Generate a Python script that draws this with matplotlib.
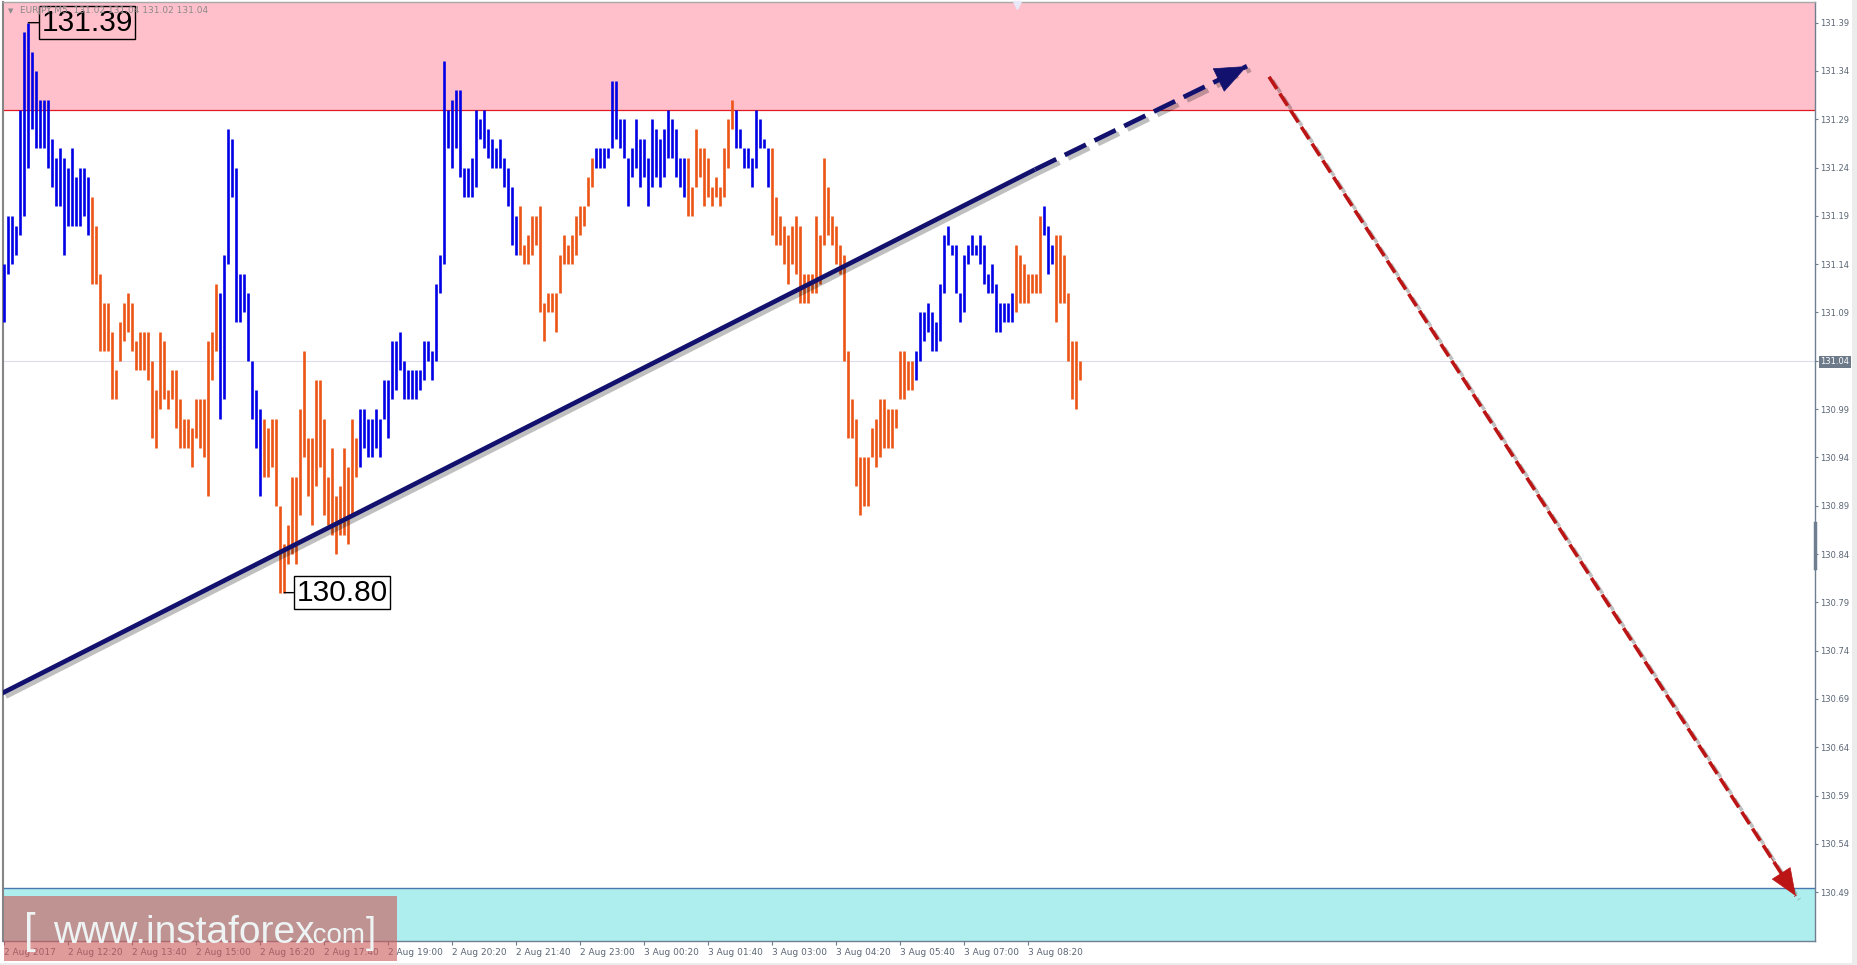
import matplotlib
matplotlib.use("Agg")
import matplotlib.pyplot as plt
import matplotlib.patheffects as pe
from matplotlib.patches import Rectangle
import numpy as np

# EURJPY M5 bars, high / low
highs = [
    131.14, 131.19, 131.19, 131.18, 131.30, 131.38, 131.39, 131.36, 131.34, 131.31,
    131.31, 131.31, 131.27, 131.25, 131.26, 131.25, 131.24, 131.26, 131.23, 131.24,
    131.24, 131.23, 131.21, 131.18, 131.13, 131.10, 131.10, 131.07, 131.03, 131.08,
    131.10, 131.11, 131.10, 131.06, 131.07, 131.07, 131.07, 131.04, 131.01, 131.07,
    131.06, 131.01, 131.03, 131.03, 131.00, 130.98, 130.98, 130.97, 131.00, 131.00,
    131.00, 131.06, 131.07, 131.12, 131.11, 131.15, 131.28, 131.27, 131.24, 131.13,
    131.13, 131.11, 131.04, 131.01, 130.99, 130.98, 130.97, 130.98, 130.98, 130.89,
    130.85, 130.87, 130.92, 130.92, 130.99, 131.05, 130.96, 130.96, 131.02, 131.02,
    130.98, 130.92, 130.95, 130.90, 130.91, 130.95, 130.93, 130.98, 130.96, 130.99,
    130.99, 130.98, 130.98, 130.99, 130.98, 131.02, 131.02, 131.06, 131.06, 131.07,
    131.04, 131.03, 131.03, 131.03, 131.03, 131.06, 131.06, 131.05, 131.12, 131.15,
    131.35, 131.30, 131.31, 131.32, 131.32, 131.24, 131.24, 131.25, 131.30, 131.29,
    131.30, 131.28, 131.27, 131.26, 131.27, 131.25, 131.24, 131.22, 131.19, 131.20,
    131.16, 131.17, 131.19, 131.19, 131.20, 131.10, 131.11, 131.11, 131.11, 131.15,
    131.17, 131.16, 131.17, 131.19, 131.20, 131.20, 131.23, 131.25, 131.26, 131.26,
    131.26, 131.26, 131.33, 131.33, 131.29, 131.29, 131.25, 131.26, 131.29, 131.27,
    131.27, 131.25, 131.29, 131.28, 131.27, 131.28, 131.30, 131.29, 131.28, 131.25,
    131.25, 131.25, 131.22, 131.28, 131.26, 131.26, 131.25, 131.22, 131.23, 131.22,
    131.26, 131.29, 131.31, 131.30, 131.28, 131.26, 131.26, 131.25, 131.30, 131.29,
    131.27, 131.26, 131.26, 131.21, 131.19, 131.18, 131.17, 131.18, 131.19, 131.18,
    131.13, 131.13, 131.13, 131.19, 131.17, 131.25, 131.22, 131.19, 131.18, 131.16,
    131.15, 131.05, 131.00, 130.98, 130.94, 130.94, 130.94, 130.97, 130.98, 131.00,
    131.00, 130.99, 130.99, 130.99, 131.05, 131.05, 131.04, 131.04, 131.05, 131.09,
    131.09, 131.10, 131.09, 131.08, 131.12, 131.17, 131.18, 131.16, 131.16, 131.11,
    131.15, 131.16, 131.17, 131.16, 131.17, 131.16, 131.13, 131.14, 131.12, 131.10,
    131.10, 131.10, 131.11, 131.16, 131.15, 131.14, 131.13, 131.13, 131.13, 131.19,
    131.20, 131.18, 131.16, 131.17, 131.17, 131.15, 131.11, 131.06, 131.06, 131.04,
]
lows = [
    131.08, 131.13, 131.14, 131.15, 131.17, 131.19, 131.24, 131.28, 131.26, 131.26,
    131.26, 131.24, 131.22, 131.20, 131.20, 131.15, 131.18, 131.18, 131.18, 131.18,
    131.19, 131.17, 131.12, 131.12, 131.05, 131.05, 131.05, 131.00, 131.00, 131.04,
    131.06, 131.07, 131.05, 131.03, 131.03, 131.03, 131.02, 130.96, 130.95, 130.99,
    131.00, 130.99, 131.00, 130.97, 130.95, 130.95, 130.95, 130.93, 130.96, 130.95,
    130.94, 130.90, 131.02, 131.05, 130.98, 131.00, 131.14, 131.21, 131.08, 131.08,
    131.09, 131.04, 130.98, 130.95, 130.90, 130.92, 130.92, 130.93, 130.89, 130.80,
    130.80, 130.83, 130.84, 130.83, 130.88, 130.94, 130.90, 130.87, 130.91, 130.93,
    130.88, 130.87, 130.86, 130.84, 130.86, 130.86, 130.85, 130.88, 130.92, 130.93,
    130.95, 130.94, 130.94, 130.95, 130.94, 130.98, 130.96, 131.00, 131.01, 131.03,
    131.00, 131.00, 131.00, 131.00, 131.01, 131.02, 131.04, 131.02, 131.04, 131.11,
    131.14, 131.26, 131.24, 131.26, 131.23, 131.21, 131.21, 131.21, 131.22, 131.27,
    131.26, 131.25, 131.24, 131.24, 131.24, 131.22, 131.20, 131.16, 131.15, 131.15,
    131.14, 131.14, 131.15, 131.16, 131.09, 131.06, 131.09, 131.09, 131.07, 131.11,
    131.14, 131.14, 131.14, 131.15, 131.17, 131.18, 131.20, 131.22, 131.24, 131.24,
    131.24, 131.25, 131.26, 131.27, 131.26, 131.25, 131.20, 131.23, 131.24, 131.22,
    131.23, 131.20, 131.22, 131.23, 131.22, 131.23, 131.25, 131.25, 131.23, 131.22,
    131.21, 131.19, 131.19, 131.22, 131.23, 131.20, 131.21, 131.20, 131.21, 131.20,
    131.21, 131.24, 131.28, 131.26, 131.26, 131.24, 131.24, 131.22, 131.24, 131.26,
    131.26, 131.22, 131.17, 131.16, 131.16, 131.14, 131.12, 131.14, 131.13, 131.10,
    131.10, 131.10, 131.11, 131.11, 131.12, 131.16, 131.17, 131.16, 131.14, 131.13,
    131.04, 130.96, 130.96, 130.91, 130.88, 130.89, 130.89, 130.94, 130.93, 130.94,
    130.95, 130.95, 130.95, 130.97, 131.00, 131.00, 131.01, 131.01, 131.02, 131.04,
    131.06, 131.07, 131.05, 131.05, 131.06, 131.11, 131.16, 131.15, 131.11, 131.08,
    131.09, 131.14, 131.15, 131.15, 131.14, 131.12, 131.11, 131.11, 131.07, 131.07,
    131.08, 131.08, 131.08, 131.09, 131.10, 131.10, 131.10, 131.11, 131.11, 131.11,
    131.17, 131.13, 131.14, 131.08, 131.10, 131.10, 131.04, 131.00, 130.99, 131.02,
]
# first bar of each wave, waves alternate blue (up) / orange (down)
wave_starts = [0, 22, 54, 65, 89, 129, 148, 171, 183, 192, 228, 253, 260, 263]

time_labels = ["2 Aug 2017", "2 Aug 12:20", "2 Aug 13:40", "2 Aug 15:00", "2 Aug 16:20",
               "2 Aug 17:40", "2 Aug 19:00", "2 Aug 20:20", "2 Aug 21:40", "2 Aug 23:00",
               "3 Aug 00:20", "3 Aug 01:40", "3 Aug 03:00", "3 Aug 04:20", "3 Aug 05:40",
               "3 Aug 07:00", "3 Aug 08:20"]
bars_per_label = 16
price_ticks = [round(130.49 + 0.05 * k, 2) for k in range(19)]

last_price = 131.04
resist_level = 131.30
support_level = 130.494
high_mark = (6, 131.39)
low_mark = (70, 130.80)

# forecast lines (bar index, price)
trend_solid = [(-0.5, 130.696), (257.7, 131.238)]
trend_dash = [(257.7, 131.238), (310.7, 131.345)]
down_arrow = [(316.2, 131.334), (447.9, 130.486)]

BLUE = "#0000e6"
ORANGE = "#ec5516"
NAVY = "#12126e"
DRED = "#bb1515"
AXC = "#6f7f8f"
TXC = "#5b6675"

W, H = 1857, 965
fig = plt.figure(figsize=(W / 100, H / 100), dpi=100)
ax = fig.add_axes([3 / W, 24 / H, 1812 / W, 939 / H])
ymin, ymax = 130.4394, 131.4114
ax.set_xlim(-0.33, 452.7)
ax.set_ylim(ymin, ymax)

# zones
ax.axhspan(resist_level, ymax + 1, color="#ffc0cb", lw=0, zorder=0)
ax.axhline(resist_level, color="#e01b24", lw=0.9, zorder=1)
ax.axhspan(ymin - 1, support_level, color="#afeeee", lw=0, zorder=0)
ax.axhline(support_level, color="#4a78b0", lw=1.0, zorder=1)
ax.axhline(last_price, color="#dcdcf0", lw=0.8, zorder=1)

# bars
x = np.arange(len(highs))
bar_colors = []
for i in x:
    k = sum(1 for s in wave_starts if s <= i) - 1
    bar_colors.append(BLUE if k % 2 == 0 else ORANGE)
ax.vlines(x, lows, highs, colors=bar_colors, linewidth=1.9, zorder=3)

# trend line + forecast arrows
shadow = [pe.SimpleLineShadow(offset=(2.5, -2.5), shadow_color="k", alpha=0.25), pe.Normal()]
(tx, ty) = zip(*trend_solid)
ax.plot(tx, ty, color=NAVY, lw=3.4, solid_capstyle="butt", zorder=4, path_effects=shadow)
(tx, ty) = zip(*trend_dash)
ax.plot(tx, ty, color=NAVY, lw=3.4, dashes=(5, 2), zorder=4, path_effects=shadow)
(tx, ty) = zip(*down_arrow)
ax.plot(tx, ty, color=DRED, lw=2.6, dashes=(4, 1.5), zorder=4, path_effects=shadow)


def head(seg, color, scale):
    (x0, y0), (x1, y1) = seg
    f = 0.06
    ax.annotate("", xy=(x1, y1), xytext=(x1 - (x1 - x0) * f, y1 - (y1 - y0) * f),
                arrowprops=dict(arrowstyle="-|>,head_length=1.1,head_width=0.45",
                                mutation_scale=scale, color=color, lw=0.5,
                                shrinkA=0, shrinkB=0), zorder=4)


head(trend_dash, NAVY, 20)
head(down_arrow, DRED, 17)

# high / low labels
ax.annotate("131.39", xy=high_mark, xytext=(9.3, high_mark[1]), ha="left", va="center",
            fontsize=21.5, family="Liberation Sans", color="black", zorder=5,
            bbox=dict(boxstyle="square,pad=0.08", fc="none", ec="black", lw=1),
            arrowprops=dict(arrowstyle="-", color="black", lw=1, shrinkA=0, shrinkB=0))
ax.annotate("130.80", xy=low_mark, xytext=(73.0, low_mark[1]), ha="left", va="center",
            fontsize=21.5, family="Liberation Sans", color="black", zorder=5,
            bbox=dict(boxstyle="square,pad=0.08", fc="white", ec="black", lw=1),
            arrowprops=dict(arrowstyle="-", color="black", lw=1, shrinkA=0, shrinkB=0))

# axes styling
ax.set_xticks([i * bars_per_label for i in range(len(time_labels))])
ax.set_xticklabels(time_labels, ha="left")
ax.set_yticks(price_ticks)
ax.set_yticklabels([f"{v:.2f}" for v in price_ticks])
ax.yaxis.tick_right()
ax.tick_params(axis="x", direction="out", length=3, pad=2, labelsize=6.5,
               colors=AXC, labelcolor=TXC)
ax.tick_params(axis="y", direction="out", length=2.5, pad=1.5, labelsize=6,
               colors=AXC, labelcolor=TXC)
for lbl in ax.get_yticklabels():
    if lbl.get_text() == f"{last_price:.2f}":
        lbl.set_color("white")
        lbl.set_bbox(dict(facecolor="#6c7a89", edgecolor="none", pad=1.2))
for s in ["right", "bottom"]:
    ax.spines[s].set_color(AXC)
    ax.spines[s].set_linewidth(1)
ax.spines["left"].set_color("#858585")
ax.spines["left"].set_linewidth(1.5)
ax.spines["top"].set_color("#a8a8a8")
ax.spines["top"].set_linewidth(1)

# scroll marker on the price axis and chart-shift marker at the top
ax.plot([1, 1], [130.825, 130.872], color=AXC, lw=2.5, clip_on=False,
        transform=ax.get_yaxis_transform(), zorder=6)
ax.plot([0.5596], [0.997], marker="v", ms=6, color="#e8e8f8", transform=ax.transAxes,
        clip_on=False, zorder=6)

# header
fig.text(8 / W, 1 - 13 / H, "\u25bc", fontsize=5, color="#8a8a8a", va="baseline")
fig.text(20 / W, 1 - 13 / H, "EURJPY,M5  131.02 131.04 131.02 131.04", fontsize=6.5,
         color="#8a8a8a", va="baseline")

# right / bottom frame
fig.add_artist(Rectangle((1852 / W, 0), 5 / W, 1, transform=fig.transFigure,
                         facecolor="#ececec", lw=0, zorder=-1))
fig.add_artist(Rectangle((0, 0), 1, 2 / H, transform=fig.transFigure,
                         facecolor="#ececec", lw=0, zorder=-1))

# watermark
fig.add_artist(Rectangle((4 / W, 4 / H), 393 / W, 65 / H, transform=fig.transFigure,
                         facecolor=(0.80, 0.36, 0.36), alpha=0.62, lw=0, zorder=5))
wm = dict(color="#eef4f4", family="Liberation Sans", va="baseline", zorder=6)
base = 22 / H
fig.text(24 / W, base, "[", fontsize=30, **wm)
fig.text(53 / W, base, "www.instaforex", fontsize=28, **wm)
fig.text(305 / W, base, ".com", fontsize=20, **wm)
fig.text(366 / W, base, "]", fontsize=26, **wm)

fig.savefig("out.png", dpi=100)
